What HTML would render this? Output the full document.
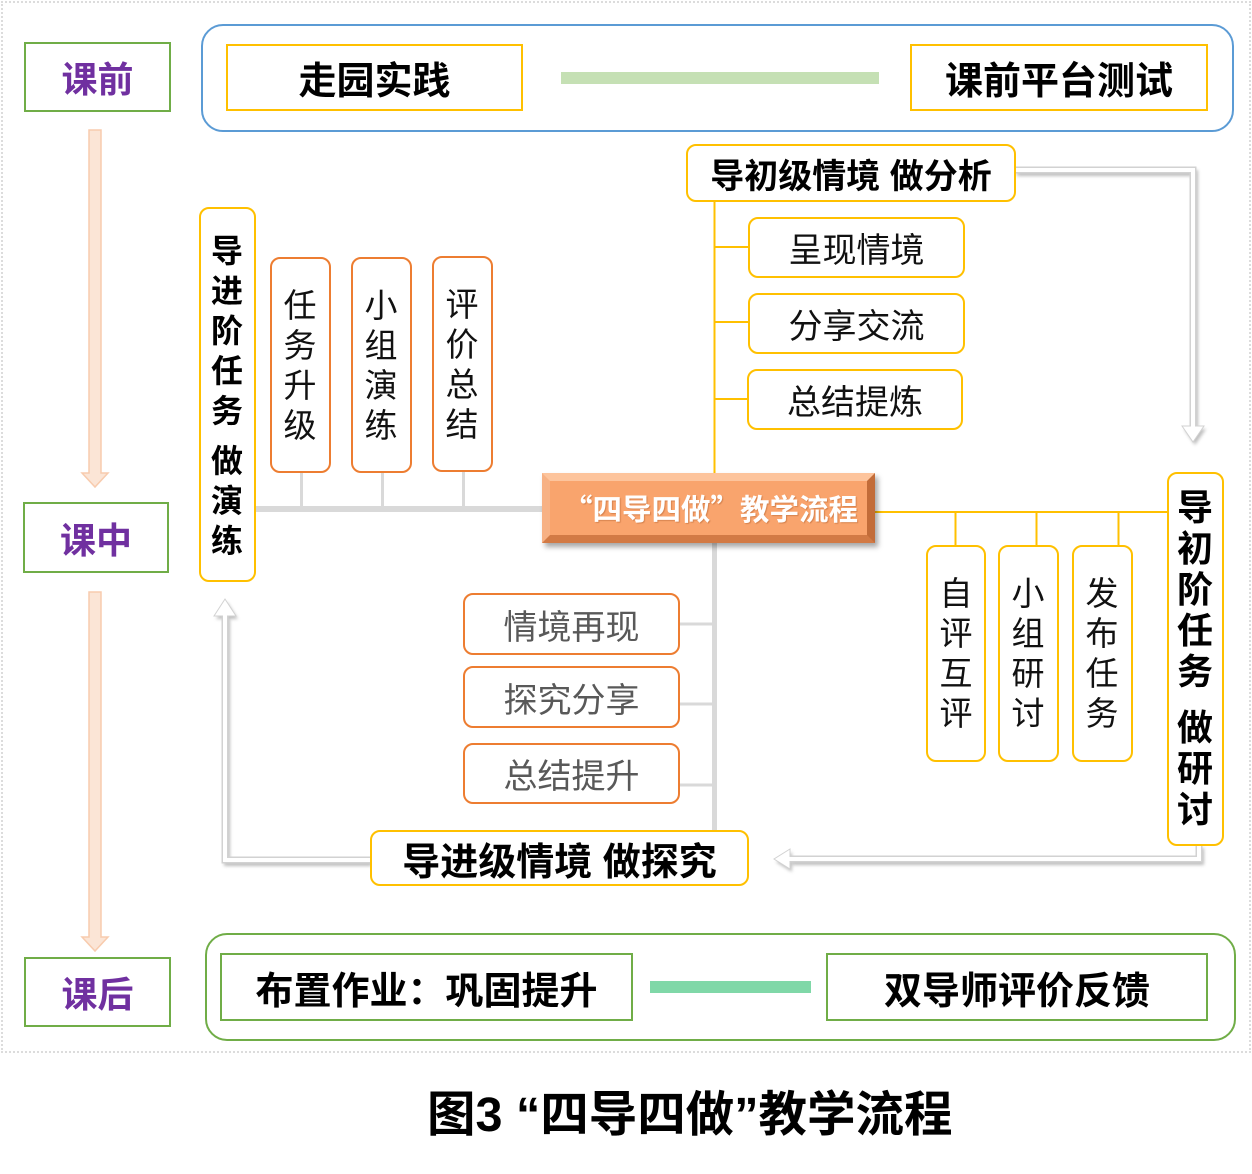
<!DOCTYPE html>
<html><head><meta charset="utf-8">
<style>
*{margin:0;padding:0;box-sizing:border-box}
body{width:1252px;height:1174px;background:#fff;position:relative;overflow:hidden;font-family:"Liberation Sans","Noto Sans CJK SC",sans-serif}
.a{position:absolute}
.bx{position:absolute;display:flex;align-items:center;justify-content:center;white-space:nowrap;background:#fff}
.y{border:2px solid #FFC000}
.o{border:2px solid #ED7D31}
.g{border:2px solid #70AD47}
.r{border-radius:10px}
.lab{color:#7030A0;font-weight:bold;font-size:36px}
.big{font-weight:bold;font-size:38px;color:#000}
.reg{font-size:34px;color:#111}
.gr{font-size:34px;color:#595959}
.vt{position:absolute;text-align:center;width:60px;color:#111}
.vt div{height:40px;line-height:40px}
.vb{font-weight:bold;color:#000}
</style></head><body>

<!-- outer dotted frame -->
<div class="a" style="left:1px;top:1px;width:1250px;height:1052px;border:2px dotted #dcdcdc"></div>

<!-- frames -->
<div class="a" style="left:201px;top:24px;width:1033px;height:108px;border:2px solid #5B9BD5;border-radius:22px"></div>
<div class="a" style="left:205px;top:933px;width:1031px;height:108px;border:2px solid #70AD47;border-radius:22px"></div>

<svg class="a" style="left:0;top:0" width="1252" height="1174" viewBox="0 0 1252 1174">
  <defs>
    <filter id="sh" x="-10%" y="-10%" width="120%" height="120%"><feGaussianBlur stdDeviation="1.6"/></filter>
  </defs>
  <!-- pink arrows -->
  <path d="M89 130 H101 V473 H108 L95 487 L82 473 H89 Z" fill="#FBE5D6" stroke="#F8CBAD" stroke-width="1.5"/>
  <path d="M89 592 H101 V937 H108 L95 951 L82 937 H89 Z" fill="#FBE5D6" stroke="#F8CBAD" stroke-width="1.5"/>
  <!-- green bars -->
  <rect x="561" y="72" width="318" height="12" fill="#C5E0B4"/>
  <rect x="650" y="981" width="161" height="12" fill="#80D8A8"/>
  <!-- yellow connectors -->
  <g stroke="#FFC000" stroke-width="2" fill="none">
    <line x1="714.5" y1="202" x2="714.5" y2="474"/>
    <line x1="714" y1="247" x2="749" y2="247"/>
    <line x1="714" y1="322" x2="749" y2="322"/>
    <line x1="714" y1="399" x2="748" y2="399"/>
    <line x1="875" y1="512" x2="1168" y2="512"/>
    <line x1="955.5" y1="512" x2="955.5" y2="546"/>
    <line x1="1036.5" y1="512" x2="1036.5" y2="546"/>
    <line x1="1118.5" y1="512" x2="1118.5" y2="546"/>
  </g>
  <!-- gray connectors -->
  <rect x="256" y="506" width="288" height="6" fill="#D9D9D9"/>
  <g stroke="#D9D9D9" stroke-width="3">
    <line x1="301.5" y1="473" x2="301.5" y2="507"/>
    <line x1="382.5" y1="473" x2="382.5" y2="507"/>
    <line x1="463.5" y1="472" x2="463.5" y2="507"/>
    <line x1="680" y1="624" x2="713" y2="624"/>
    <line x1="680" y1="704" x2="713" y2="704"/>
    <line x1="680" y1="785" x2="713" y2="785"/>
  </g>
  <rect x="712" y="543" width="5" height="288" fill="#D9D9D9"/>

  <!-- white arrows: shadow -->
  <g fill="none" stroke="#8a8a8a" stroke-width="6" opacity="0.55" filter="url(#sh)" transform="translate(2,3)">
    <path d="M1015 170 H1193 V428"/>
    <path d="M1199 845 V859 H790"/>
    <path d="M370 860 H225 V616"/>
  </g>
  <g fill="#8a8a8a" opacity="0.55" filter="url(#sh)" transform="translate(2,3)">
    <polygon points="1182,426 1204,426 1193,442"/>
    <polygon points="790,849 790,869 774,859"/>
    <polygon points="214,616 236,616 225,599"/>
  </g>
  <g fill="none" stroke="#d2d2d2" stroke-width="7">
    <path d="M1015 170 H1193 V428"/>
    <path d="M1199 845 V859 H790"/>
    <path d="M370 860 H225 V616"/>
  </g>
  <g fill="#fff" stroke="#d2d2d2" stroke-width="1">
    <polygon points="1182,426 1204,426 1193,442"/>
    <polygon points="790,849 790,869 774,859"/>
    <polygon points="214,616 236,616 225,599"/>
  </g>
  <g fill="none" stroke="#fff" stroke-width="4">
    <path d="M1014 170 H1193 V429"/>
    <path d="M1199 844 V859 H789"/>
    <path d="M371 860 H225 V615"/>
  </g>
</svg>

<!-- left stage labels -->
<div class="bx g lab" style="left:24px;top:42px;width:147px;height:70px">课前</div>
<div class="bx g lab" style="left:23px;top:502px;width:146px;height:71px">课中</div>
<div class="bx g lab" style="left:24px;top:957px;width:147px;height:70px">课后</div>

<!-- top row -->
<div class="bx y big" style="left:226px;top:44px;width:297px;height:67px">走园实践</div>
<div class="bx y big" style="left:910px;top:44px;width:298px;height:67px">课前平台测试</div>

<!-- 导初级情境 -->
<div class="bx y r big" style="left:686px;top:144px;width:330px;height:58px;font-size:34px">导初级情境 做分析</div>
<div class="bx y r reg" style="left:748px;top:217px;width:217px;height:61px">呈现情境</div>
<div class="bx y r reg" style="left:748px;top:293px;width:217px;height:61px">分享交流</div>
<div class="bx y r reg" style="left:747px;top:369px;width:216px;height:61px">总结提炼</div>

<!-- center -->
<div class="bx" style="left:542px;top:473px;width:333px;height:70px;background:#F9A46D;border-top:8px solid #FDC49C;border-left:8px solid #F7B184;border-right:8px solid #C26C39;border-bottom:8px solid #D27A45;box-shadow:3px 4px 5px rgba(0,0,0,0.35);padding-left:4px;font-family:'Noto Sans CJK SC',sans-serif;font-weight:bold;font-size:29.5px;color:#fff;text-shadow:1px 1px 1px rgba(150,70,20,0.35)">“四导四做”教学流程</div>

<!-- 导进阶任务 做演练 -->
<div class="a y r" style="left:199px;top:207px;width:57px;height:375px;background:#fff"></div>
<div class="vt vb" style="left:197px;top:231px;font-size:32px"><div>导</div><div>进</div><div>阶</div><div>任</div><div>务</div></div>
<div class="vt vb" style="left:197px;top:441px;font-size:32px"><div>做</div><div>演</div><div>练</div></div>

<div class="a o r" style="left:270px;top:257px;width:61px;height:216px;background:#fff"></div>
<div class="vt" style="left:270px;top:286px;font-size:33px"><div>任</div><div>务</div><div>升</div><div>级</div></div>
<div class="a o r" style="left:351px;top:257px;width:61px;height:216px;background:#fff"></div>
<div class="vt" style="left:351px;top:286px;font-size:33px"><div>小</div><div>组</div><div>演</div><div>练</div></div>
<div class="a o r" style="left:432px;top:256px;width:61px;height:216px;background:#fff"></div>
<div class="vt" style="left:432px;top:285px;font-size:33px"><div>评</div><div>价</div><div>总</div><div>结</div></div>

<!-- right side -->
<div class="a y r" style="left:926px;top:545px;width:60px;height:217px;background:#fff"></div>
<div class="vt" style="left:926px;top:574px;font-size:33px"><div>自</div><div>评</div><div>互</div><div>评</div></div>
<div class="a y r" style="left:998px;top:545px;width:61px;height:217px;background:#fff"></div>
<div class="vt" style="left:998px;top:574px;font-size:33px"><div>小</div><div>组</div><div>研</div><div>讨</div></div>
<div class="a y r" style="left:1072px;top:545px;width:61px;height:217px;background:#fff"></div>
<div class="vt" style="left:1072px;top:574px;font-size:33px"><div>发</div><div>布</div><div>任</div><div>务</div></div>

<div class="a y r" style="left:1167px;top:472px;width:57px;height:374px;background:#fff"></div>
<div class="vt vb" style="left:1165px;top:487px;font-size:36px"><div style="height:41px;line-height:41px">导</div><div style="height:41px;line-height:41px">初</div><div style="height:41px;line-height:41px">阶</div><div style="height:41px;line-height:41px">任</div><div style="height:41px;line-height:41px">务</div></div>
<div class="vt vb" style="left:1165px;top:707px;font-size:36px"><div style="height:41px;line-height:41px">做</div><div style="height:41px;line-height:41px">研</div><div style="height:41px;line-height:41px">讨</div></div>

<!-- lower middle -->
<div class="bx o r gr" style="left:463px;top:593px;width:217px;height:62px">情境再现</div>
<div class="bx o r gr" style="left:463px;top:666px;width:217px;height:62px">探究分享</div>
<div class="bx o r gr" style="left:463px;top:743px;width:217px;height:61px">总结提升</div>

<div class="bx y r big" style="left:370px;top:830px;width:379px;height:56px">导进级情境 做探究</div>

<!-- bottom row -->
<div class="bx g big" style="left:220px;top:953px;width:413px;height:68px">布置作业：巩固提升</div>
<div class="bx g big" style="left:826px;top:953px;width:382px;height:68px">双导师评价反馈</div>

<!-- caption -->
<div class="a" style="left:427px;top:1085px;white-space:nowrap;font-weight:bold;font-size:48.5px;line-height:60px;color:#000">图3 “四导四做”教学流程</div>

</body></html>
